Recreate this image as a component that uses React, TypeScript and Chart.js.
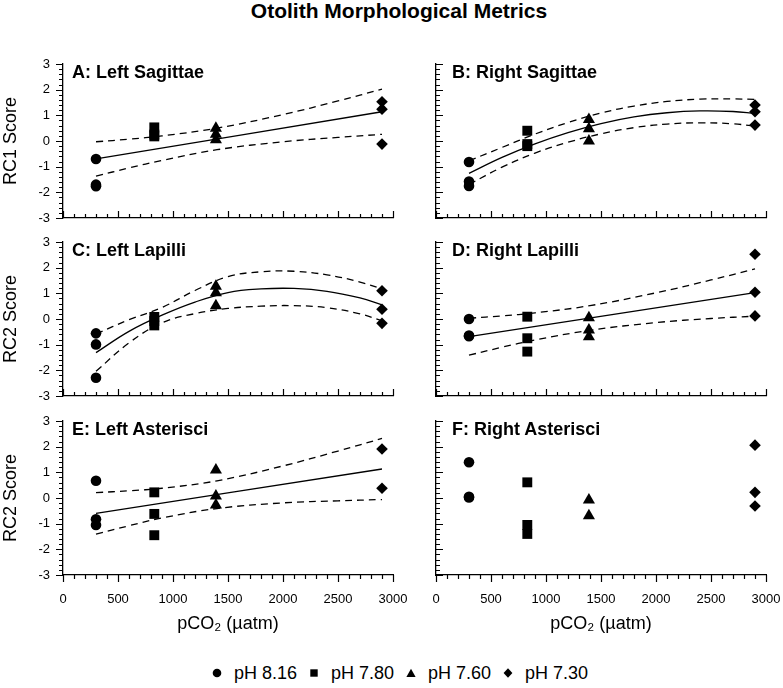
import React, { useEffect, useRef } from "react";
import { Chart, registerables } from "chart.js";
Chart.register(...registerables);

const FONT = '"Liberation Sans", Arial, Helvetica, sans-serif';
Chart.defaults.font.family = FONT;

// ---------------- data ----------------
const TITLE = "Otolith Morphological Metrics";
const LEGEND_LABELS = ["pH 8.16", "pH 7.80", "pH 7.60", "pH 7.30"];
const PCO2 = [300, 830, 1390, 2900]; // x of pH 8.16, 7.80, 7.60, 7.30 groups
const X_TITLE = "pCO\u2082 (\u00B5atm)";

// A: Left Sagittae (RC1)
const A_PH816 = [-0.7, -1.7, -1.76];
const A_PH780 = [0.53, 0.25, 0.18];
const A_PH760 = [0.5, 0.26, 0.05];
const A_PH730 = [1.53, 1.24, -0.12];
// B: Right Sagittae (RC1)
const B_PH816 = [-0.82, -1.58, -1.75];
const B_PH780 = [0.4, -0.12, -0.2];
const B_PH760 = [0.84, 0.48, 0.0];
const B_PH730 = [1.4, 1.14, 0.62];
// C: Left Lapilli (RC2)
const C_PH816 = [-0.56, -0.99, -2.29];
const C_PH780 = [0.08, -0.08, -0.25];
const C_PH760 = [1.28, 1.02, 0.52];
const C_PH730 = [1.1, 0.38, -0.17];
// D: Right Lapilli (RC2)
const D_PH816 = [0.0, -0.64, -0.67];
const D_PH780 = [0.09, -0.75, -1.27];
const D_PH760 = [0.05, -0.43, -0.69];
const D_PH730 = [2.52, 1.04, 0.12];
// E: Left Asterisci (RC2)
const E_PH816 = [0.67, -0.83, -1.05];
const E_PH780 = [0.22, -0.62, -1.45];
const E_PH760 = [1.09, 0.08, -0.27];
const E_PH730 = [1.91, 0.38];
// F: Right Asterisci (RC2)
const F_PH816 = [1.39, 0.05, 0.02];
const F_PH780 = [0.61, -1.05, -1.4];
const F_PH760 = [-0.08, -0.69];
const F_PH730 = [2.06, 0.22, -0.31];

// fitted curves and 95% bands
const LIN_FIT_X = [300, 2900];
const LIN_BAND_X = [300, 600, 900, 1400, 2000, 2500, 2900];
const QUAD_X = [300, 600, 900, 1200, 1500, 1800, 2100, 2400, 2700, 2900];

const A_FIT = [-0.7, 1.14];
const A_UPPER = [-0.03, 0.07, 0.2, 0.5, 1.03, 1.56, 2.02];
const A_LOWER = [-1.37, -1.05, -0.76, -0.34, -0.03, 0.14, 0.26];

const B_FIT = [-1.26, -0.64, -0.11, 0.33, 0.68, 0.94, 1.1, 1.17, 1.15, 1.08];
const B_UPPER = [-0.77, -0.25, 0.27, 0.72, 1.09, 1.36, 1.54, 1.63, 1.64, 1.62];
const B_LOWER = [-1.69, -1.02, -0.47, -0.05, 0.28, 0.52, 0.66, 0.71, 0.67, 0.58];

const C_FIT = [-1.31, -0.48, 0.15, 0.66, 1.03, 1.17, 1.19, 1.08, 0.82, 0.55];
const C_UPPER = [-0.58, -0.03, 0.45, 1.11, 1.65, 1.84, 1.86, 1.72, 1.44, 1.17];
const C_LOWER = [-2.04, -0.93, -0.15, 0.21, 0.41, 0.5, 0.52, 0.44, 0.2, -0.07];

const D_FIT = [-0.69, 1.03];
const D_UPPER = [0.03, 0.12, 0.24, 0.52, 1.02, 1.52, 1.95];
const D_LOWER = [-1.41, -1.1, -0.82, -0.44, -0.14, 0.02, 0.11];

const E_FIT = [-0.6, 1.13];
const E_UPPER = [0.21, 0.28, 0.38, 0.67, 1.25, 1.83, 2.32];
const E_LOWER = [-1.41, -1.08, -0.78, -0.41, -0.19, -0.11, -0.06];

// axis ranges / ticks
const X_MIN = 0, X_MAX = 3000, X_MAJOR = 500, X_MINOR = 100;
const Y_MIN = -3, Y_MAX = 3, Y_MAJOR = 1, Y_MINOR = 0.2;

// ---------------- layout ----------------
const COL_LEFT = [63, 436];
const COL_RIGHT = [393, 766];
const CANVAS_LEFT = [0, 400];
const CANVAS_W = [430, 400];
const ROW_TOP = [64, 242, 421];
const PLOT_H = 154;
const PAD_TOP = 24;
const MAJOR_LEN = 7;
const MINOR_LEN = 4;

type PanelSpec = {
  label: string;
  col: number;
  row: number;
  yTitle?: string;
  groups: number[][];
  fitX?: number[];
  fit?: number[];
  bandX?: number[];
  upper?: number[];
  lower?: number[];
};

const PANELS: PanelSpec[] = [
  { label: "A: Left Sagittae", col: 0, row: 0, yTitle: "RC1 Score", groups: [A_PH816, A_PH780, A_PH760, A_PH730], fitX: LIN_FIT_X, fit: A_FIT, bandX: LIN_BAND_X, upper: A_UPPER, lower: A_LOWER },
  { label: "B: Right Sagittae", col: 1, row: 0, groups: [B_PH816, B_PH780, B_PH760, B_PH730], fitX: QUAD_X, fit: B_FIT, bandX: QUAD_X, upper: B_UPPER, lower: B_LOWER },
  { label: "C: Left Lapilli", col: 0, row: 1, yTitle: "RC2 Score", groups: [C_PH816, C_PH780, C_PH760, C_PH730], fitX: QUAD_X, fit: C_FIT, bandX: QUAD_X, upper: C_UPPER, lower: C_LOWER },
  { label: "D: Right Lapilli", col: 1, row: 1, groups: [D_PH816, D_PH780, D_PH760, D_PH730], fitX: LIN_FIT_X, fit: D_FIT, bandX: LIN_BAND_X, upper: D_UPPER, lower: D_LOWER },
  { label: "E: Left Asterisci", col: 0, row: 2, yTitle: "RC2 Score", groups: [E_PH816, E_PH780, E_PH760, E_PH730], fitX: LIN_FIT_X, fit: E_FIT, bandX: LIN_BAND_X, upper: E_UPPER, lower: E_LOWER },
  { label: "F: Right Asterisci", col: 1, row: 2, groups: [F_PH816, F_PH780, F_PH760, F_PH730] },
];

const POINT_STYLES = ["circle", "rect", "triangle", "rectRot"];
const POINT_RADII = [5.3, 7, 7, 5.8];

const tickPlugin = {
  id: "customTicks",
  beforeDatasetsDraw(chart: any, _args: any, opts: any) {
    const { ctx, chartArea } = chart;
    const xs = chart.scales.x;
    const ys = chart.scales.y;
    ctx.save();
    ctx.strokeStyle = "#000";
    ctx.lineWidth = 1.2;
    ctx.beginPath();
    const nx = Math.round((X_MAX - X_MIN) / X_MINOR);
    const xPerMajor = Math.round(X_MAJOR / X_MINOR);
    for (let i = 0; i <= nx; i++) {
      const v = X_MIN + i * X_MINOR;
      const len = i % xPerMajor === 0 ? MAJOR_LEN : MINOR_LEN;
      const px = Math.round(xs.getPixelForValue(v)) + 0.5;
      const y0 = chartArea.bottom;
      ctx.moveTo(px, y0);
      ctx.lineTo(px, opts.xIn ? y0 - len : y0 + len);
    }
    const ny = Math.round((Y_MAX - Y_MIN) / Y_MINOR);
    const yPerMajor = Math.round(Y_MAJOR / Y_MINOR);
    for (let i = 0; i <= ny; i++) {
      const v = Y_MIN + i * Y_MINOR;
      const len = i % yPerMajor === 0 ? MAJOR_LEN : MINOR_LEN;
      const py = Math.round(ys.getPixelForValue(v)) + 0.5;
      const x0 = chartArea.left;
      ctx.moveTo(x0, py);
      ctx.lineTo(opts.yIn ? x0 + len : x0 - len, py);
    }
    ctx.stroke();
    ctx.restore();
  },
};

function Panel({ spec }: { spec: PanelSpec }) {
  const ref = useRef<HTMLCanvasElement | null>(null);
  const { col, row } = spec;
  const canvasLeft = CANVAS_LEFT[col];
  const canvasW = CANVAS_W[col];
  const xH = row === 2 ? 60 : 10;
  const padBottom = row === 2 ? 0 : 14;
  const canvasTop = ROW_TOP[row] - PAD_TOP;
  const canvasH = PAD_TOP + PLOT_H + xH + padBottom;
  const yW = COL_LEFT[col] - canvasLeft;
  const padRight = canvasLeft + canvasW - COL_RIGHT[col];

  useEffect(() => {
    if (!ref.current) return;
    const datasets: any[] = [];
    spec.groups.forEach((ys, gi) => {
      datasets.push({
        label: LEGEND_LABELS[gi],
        data: ys.map((y) => ({ x: PCO2[gi], y })),
        pointStyle: POINT_STYLES[gi],
        pointRadius: POINT_RADII[gi],
        pointHoverRadius: POINT_RADII[gi],
        backgroundColor: "#000",
        borderColor: "#000",
        borderWidth: 0,
        showLine: false,
      });
    });
    const lineDs = (xs: number[], ys: number[], dashed: boolean) => ({
      data: xs.map((x, i) => ({ x, y: ys[i] })),
      showLine: true,
      pointRadius: 0,
      pointHoverRadius: 0,
      borderColor: "#000",
      backgroundColor: "#000",
      borderWidth: 1.3,
      borderDash: dashed ? [7, 5] : [],
      tension: 0.4,
      fill: false,
    });
    if (spec.fit && spec.fitX) datasets.push(lineDs(spec.fitX, spec.fit, false));
    if (spec.upper && spec.bandX) datasets.push(lineDs(spec.bandX, spec.upper, true));
    if (spec.lower && spec.bandX) datasets.push(lineDs(spec.bandX, spec.lower, true));

    const chart = new Chart(ref.current, {
      type: "scatter",
      data: { datasets },
      options: {
        animation: false,
        responsive: false,
        maintainAspectRatio: false,
        events: [],
        layout: { padding: { left: 0, right: padRight, top: PAD_TOP, bottom: padBottom } },
        plugins: {
          legend: { display: false },
          tooltip: { enabled: false },
          customTicks: { xIn: row < 2, yIn: col === 1 },
        } as any,
        scales: {
          x: {
            type: "linear",
            position: "bottom",
            min: X_MIN,
            max: X_MAX,
            ticks: {
              display: row === 2,
              stepSize: X_MAJOR,
              padding: 17,
              color: "#000",
              font: { family: FONT, size: 13 },
              maxRotation: 0,
              autoSkip: false,
              callback: (v: any) => String(v),
            },
            grid: { display: false, drawTicks: false, tickLength: 0 },
            border: { display: true, color: "#000", width: 1.3 },
            title: {
              display: row === 2,
              text: X_TITLE,
              color: "#000",
              font: { family: FONT, size: 18 },
              padding: 0,
            },
            afterFit: (s: any) => {
              s.height = xH;
            },
          },
          y: {
            type: "linear",
            min: Y_MIN,
            max: Y_MAX,
            ticks: {
              display: col === 0,
              stepSize: Y_MAJOR,
              padding: 13,
              color: "#000",
              font: { family: FONT, size: 13 },
              callback: (v: any) => String(v),
            },
            grid: { display: false, drawTicks: false, tickLength: 0 },
            border: { display: true, color: "#000", width: 1.3 },
            title: {
              display: !!spec.yTitle,
              text: spec.yTitle || "",
              color: "#000",
              font: { family: FONT, size: 18 },
              padding: 0,
            },
            afterFit: (s: any) => {
              s.width = yW;
            },
          },
        } as any,
      },
      plugins: [tickPlugin],
    });
    return () => chart.destroy();
  }, []);

  return (
    <canvas
      ref={ref}
      width={canvasW}
      height={canvasH}
      style={{ position: "absolute", left: canvasLeft, top: canvasTop, width: canvasW, height: canvasH }}
    />
  );
}

function LegendSymbol({ i }: { i: number }) {
  const common = { fill: "#000" };
  return (
    <svg width={10} height={10} viewBox="0 0 10 10" style={{ display: "block", marginRight: 12 }}>
      {i === 0 && <circle cx={5} cy={5} r={4.3} {...common} />}
      {i === 1 && <rect x={1.3} y={1.3} width={7.4} height={7.4} {...common} />}
      {i === 2 && <polygon points="5,0.8 9.6,9 0.4,9" {...common} />}
      {i === 3 && <polygon points="5,0.3 9.4,5 5,9.7 0.6,5" {...common} />}
    </svg>
  );
}

export default function App() {
  return (
    <div
      style={{
        position: "absolute",
        left: 0,
        top: 0,
        width: 783,
        height: 688,
        background: "#fff",
        color: "#000",
        fontFamily: FONT,
        overflow: "hidden",
      }}
    >
      <div
        style={{
          position: "absolute",
          left: 99,
          top: 0,
          width: 600,
          textAlign: "center",
          fontWeight: "bold",
          fontSize: 21,
          lineHeight: "21px",
        }}
      >
        {TITLE}
      </div>
      {PANELS.map((p) => (
        <Panel key={p.label} spec={p} />
      ))}
      {PANELS.map((p) => (
        <div
          key={"lbl" + p.label}
          style={{
            position: "absolute",
            left: COL_LEFT[p.col] + (p.col === 0 ? 9 : 16),
            top: ROW_TOP[p.row] - 1,
            fontWeight: "bold",
            fontSize: 18,
            lineHeight: "18px",
            whiteSpace: "nowrap",
          }}
        >
          {p.label}
        </div>
      ))}
      <div
        style={{
          position: "absolute",
          left: 100,
          top: 664,
          width: 600,
          height: 18,
          display: "flex",
          justifyContent: "center",
          alignItems: "center",
          fontSize: 18,
          lineHeight: "18px",
        }}
      >
        {LEGEND_LABELS.map((l, i) => (
          <div key={l} style={{ display: "flex", alignItems: "center", marginRight: i < 3 ? 12 : 0 }}>
            <LegendSymbol i={i} />
            <span style={{ whiteSpace: "nowrap" }}>{l}</span>
          </div>
        ))}
      </div>
    </div>
  );
}
